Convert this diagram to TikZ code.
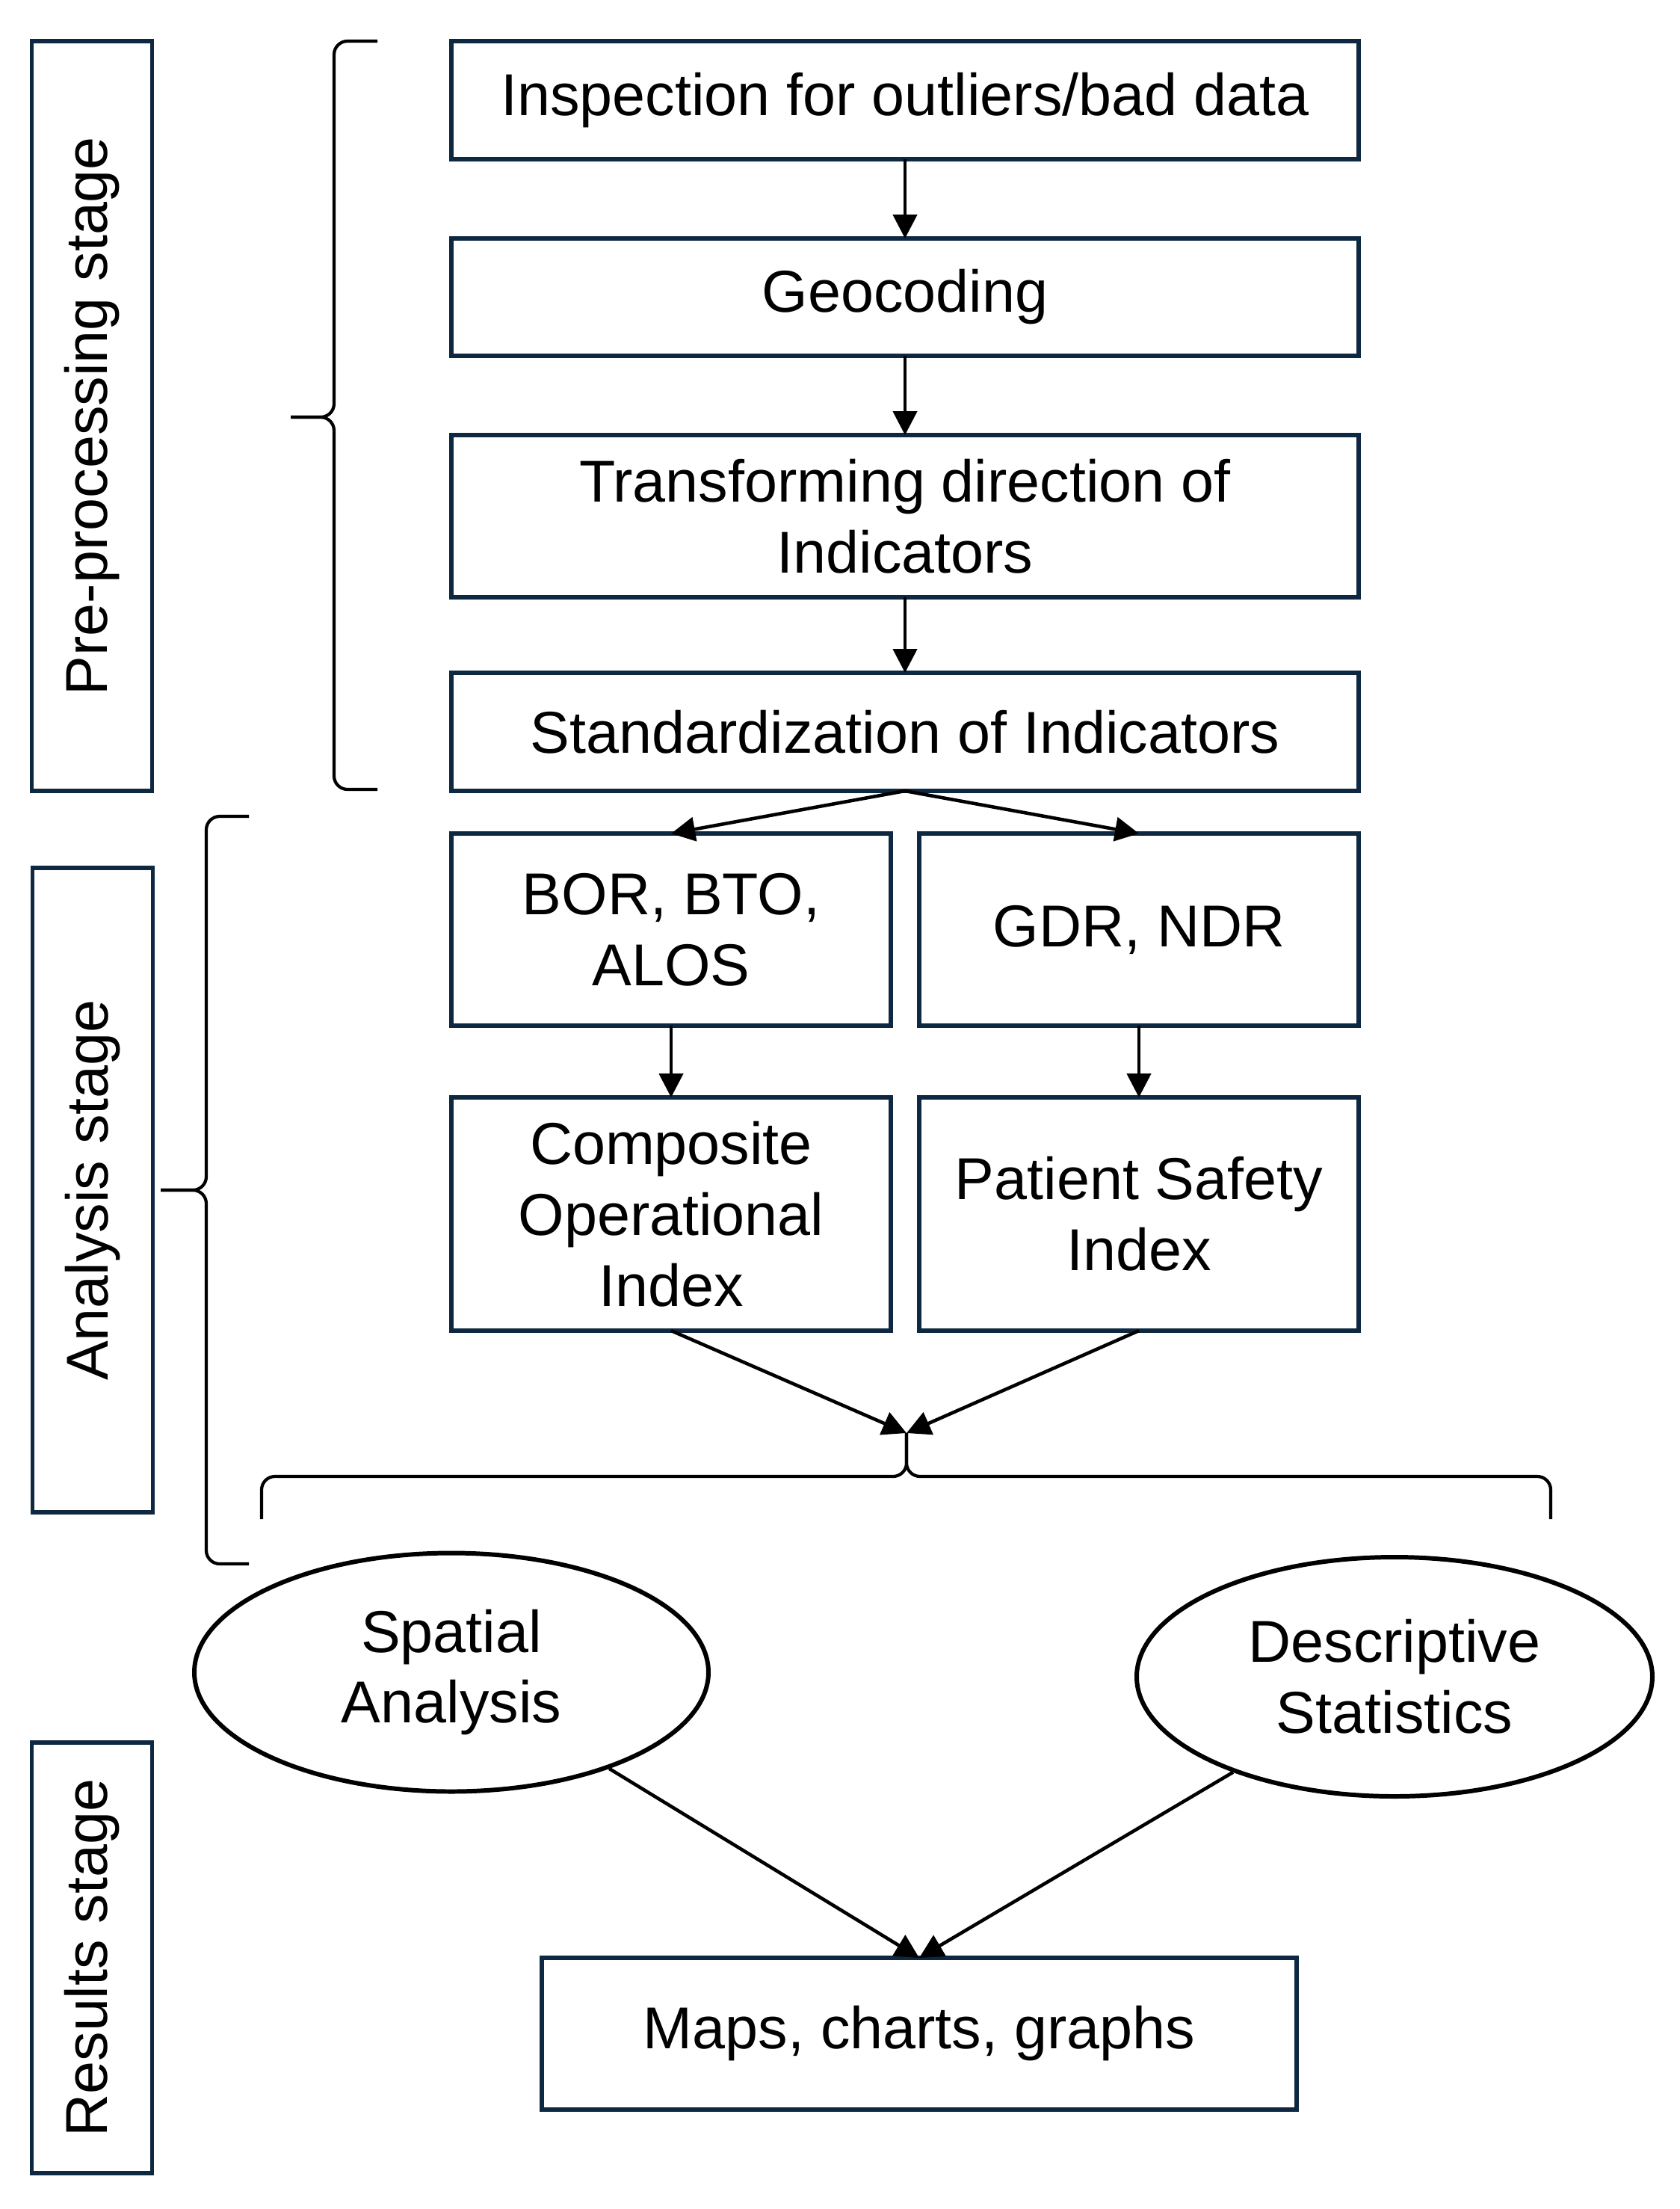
\documentclass[tikz,border=0pt]{standalone}
\usepackage{fontspec}
\setmainfont{Liberation Sans}
\usepackage{xcolor}
\definecolor{navy}{HTML}{0E2841}
\usepackage{tikz}
\usetikzlibrary{shapes.geometric, arrows.meta, positioning, calc}

\begin{document}
\begin{tikzpicture}[
    node distance=1.06cm,
    txt/.style={font=\fontsize{22.5}{27}\selectfont, align=center},
    box/.style={rectangle, draw=navy, line width=1.6pt, inner sep=0pt, outer sep=0pt, txt},
    wide/.style={box, minimum width=12.14cm},
    half/.style={box, minimum width=5.88cm},
    stagebox/.style={box, rotate=90, minimum height=1.61cm},
    oval/.style={ellipse, draw=black, line width=1.7pt, inner sep=0pt, txt},
    arr/.style={-{Triangle[length=0.32cm, width=0.32cm]}, line width=1.3pt, black},
    brc/.style={line width=1.2pt, rounded corners=0.18cm}
]
\useasboundingbox (0,0) rectangle (22.48,-29.55);

\node[wide, minimum height=1.58cm] (insp) at (12.11,-1.34) {Inspection for outliers/bad data};
\node[wide, minimum height=1.57cm, below=of insp] (geo) {Geocoding};
\node[wide, minimum height=2.17cm, below=of geo] (trans) {Transforming direction of\\Indicators};
\node[wide, minimum height=1.58cm, below=1.01cm of trans] (std) {Standardization of Indicators};

\node[half, minimum height=2.57cm, below right=0.57cm and 0cm of std.south west] (bor) {BOR, BTO,\\ALOS};
\node[half, minimum height=2.57cm, below left=0.57cm and 0cm of std.south east] (gdr) {GDR, NDR};
\node[half, minimum height=3.12cm, below=0.96cm of bor] (comp) {Composite\\Operational\\Index};
\node[half, minimum height=3.12cm, below=0.96cm of gdr] (patient) {Patient Safety\\Index};

\coordinate (join) at (12.13,-19.17);

\node[oval, minimum width=6.88cm, minimum height=3.19cm] (spatial) at (6.04,-22.37) {Spatial\\Analysis};
\node[oval, minimum width=6.90cm, minimum height=3.20cm] (descr) at (18.66,-22.43) {Descriptive\\Statistics};
\node[box, minimum width=10.1cm, minimum height=2.03cm] (maps) at (12.30,-27.205) {Maps, charts, graphs};

\node[stagebox, minimum width=10.03cm] (pre) at (1.23,-5.565) {Pre-processing stage};
\node[stagebox, minimum width=8.62cm] (ana) at (1.24,-15.92) {Analysis stage};
\node[stagebox, minimum width=5.76cm] (res) at (1.23,-26.19) {Results stage};

% braces
\draw[brc] (3.89,-5.58) -- (4.47,-5.58) |- (5.05,-0.55);
\draw[brc] (3.89,-5.58) -- (4.47,-5.58) |- (5.05,-10.56);
\draw[brc] (2.15,-15.92) -- (2.76,-15.92) |- (3.33,-10.92);
\draw[brc] (2.15,-15.92) -- (2.76,-15.92) |- (3.33,-20.92);
\draw[brc] (join) -- (12.13,-19.75) -| (3.50,-20.32);
\draw[brc] (join) -- (12.13,-19.75) -| (20.75,-20.32);

\draw[arr] (insp) -- (geo);
\draw[arr] (geo) -- (trans);
\draw[arr] (trans) -- (std);
\draw[arr] (std.south) -- (bor.north);
\draw[arr] (std.south) -- (gdr.north);
\draw[arr] (bor) -- (comp);
\draw[arr] (gdr) -- (patient);
\draw[arr] (comp.south) -- (join);
\draw[arr] (patient.south) -- (join);
\draw[arr] (spatial) -- (maps.north);
\draw[arr] (descr) -- (maps.north);
\end{tikzpicture}
\end{document}
